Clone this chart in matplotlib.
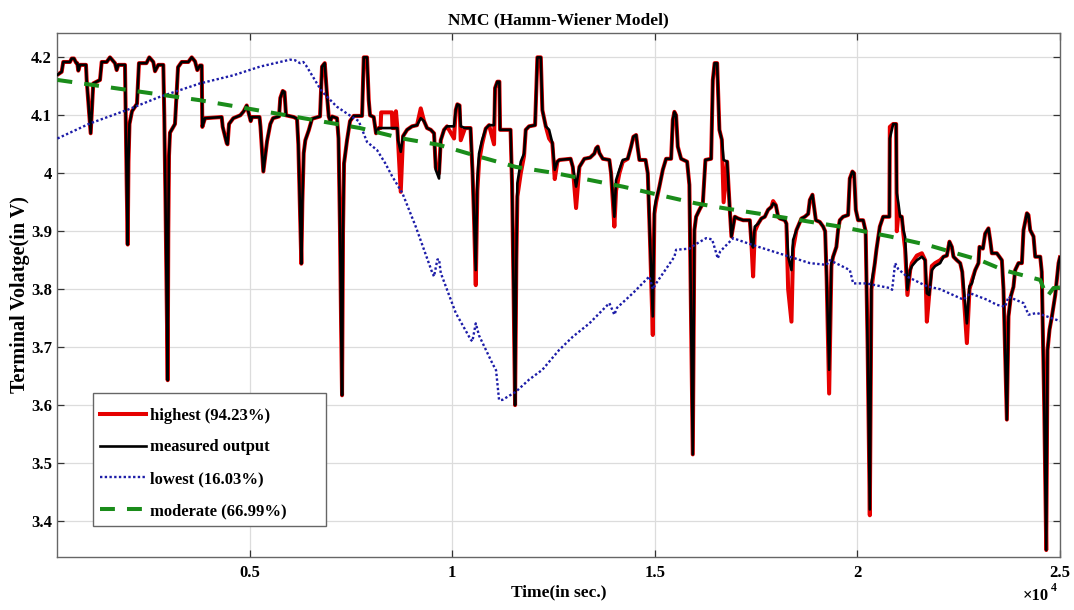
import matplotlib
matplotlib.use("Agg")
import matplotlib.pyplot as plt
from matplotlib.patches import Rectangle
from matplotlib.ticker import FixedLocator

plt.rcParams['font.family'] = ['Liberation Serif', 'DejaVu Serif']
plt.rcParams['font.weight'] = 'bold'

# ---- measured terminal voltage and best (highest-fit) model, same time grid ----
time_s = [
    254, 358, 397, 563, 605, 662, 711, 743, 768, 810,
    958, 975, 1074, 1138, 1304, 1346, 1469, 1550, 1674, 1716,
    1756, 1921, 1938, 1963, 1988, 2007, 2032, 2094, 2217, 2266,
    2450, 2521, 2620, 2662, 2743, 2867, 2891, 2921, 2950, 2975,
    2990, 3007, 3032, 3155, 3230, 3321, 3484, 3568, 3650, 3706,
    3773, 3815, 3830, 3896, 4308, 4333, 4432, 4452, 4489, 4595,
    4768, 4852, 4926, 4990, 5025, 5057, 5242, 5266, 5336, 5365,
    5427, 5508, 5575, 5723, 5755, 5815, 5859, 5896, 6086, 6167,
    6200, 6242, 6274, 6299, 6333, 6373, 6457, 6538, 6735, 6785,
    6852, 6908, 6950, 6990, 7032, 7155, 7192, 7229, 7254, 7279,
    7303, 7328, 7402, 7476, 7568, 7773, 7815, 7896, 7938, 7970,
    8061, 8118, 8185, 8230, 8245, 8510, 8525, 8595, 8610, 8644,
    8661, 8728, 8785, 8884, 9007, 9130, 9222, 9303, 9377, 9469,
    9550, 9592, 9673, 9716, 9797, 9871, 10044, 10086, 10125, 10180,
    10209, 10315, 10451, 10501, 10538, 10580, 10619, 10661, 10735, 10826,
    10908, 11031, 11056, 11113, 11163, 11180, 11439, 11476, 11513, 11550,
    11582, 11607, 11691, 11772, 11814, 11896, 12044, 12076, 12101, 12185,
    12224, 12308, 12390, 12471, 12530, 12594, 12644, 12921, 12975, 13056,
    13138, 13261, 13402, 13508, 13550, 13592, 13631, 13715, 13878, 13920,
    14001, 14043, 14125, 14209, 14332, 14414, 14471, 14538, 14575, 14619,
    14772, 14826, 14883, 14950, 14989, 15031, 15113, 15197, 15278, 15402,
    15444, 15483, 15525, 15567, 15649, 15797, 15853, 15895, 15937, 15977,
    16019, 16101, 16185, 16249, 16390, 16432, 16476, 16538, 16594, 16654,
    16698, 16785, 16851, 16891, 16975, 17056, 17180, 17345, 17385, 17426,
    17468, 17550, 17631, 17715, 17796, 17878, 17920, 17987, 18044, 18086,
    18209, 18249, 18291, 18373, 18414, 18496, 18619, 18703, 18785, 18827,
    18891, 18926, 18975, 19073, 19155, 19204, 19241, 19303, 19359, 19400,
    19482, 19524, 19566, 19647, 19771, 19813, 19877, 19919, 19961, 20018,
    20142, 20204, 20253, 20307, 20347, 20431, 20470, 20554, 20636, 20759,
    20790, 20801, 20883, 20957, 20973, 21013, 21054, 21096, 21136, 21178,
    21235, 21304, 21345, 21468, 21592, 21673, 21715, 21772, 21838, 21920,
    22043, 22125, 22209, 22273, 22332, 22372, 22456, 22538, 22588, 22703,
    22768, 22826, 22908, 22989, 23014, 23098, 23155, 23236, 23278, 23320,
    23443, 23567, 23607, 23690, 23730, 23789, 23853, 23895, 23977, 24061,
    24101, 24185, 24224, 24266, 24348, 24390, 24514, 24551, 24612, 24662,
    24694, 24743, 24802, 24884, 24966, 25000,
]

measured_v = [
    4.170, 4.175, 4.192, 4.192, 4.198, 4.198, 4.191, 4.190, 4.177, 4.187,
    4.187, 4.161, 4.069, 4.155, 4.161, 4.192, 4.192, 4.200, 4.190, 4.178,
    4.187, 4.187, 4.100, 3.980, 3.877, 4.020, 4.085, 4.107, 4.120, 4.190,
    4.190, 4.200, 4.192, 4.176, 4.187, 4.187, 4.100, 3.950, 3.780, 3.643,
    3.900, 4.030, 4.070, 4.085, 4.183, 4.192, 4.192, 4.200, 4.193, 4.178,
    4.186, 4.186, 4.080, 4.095, 4.097, 4.080, 4.052, 4.050, 4.085, 4.095,
    4.100, 4.107, 4.117, 4.100, 4.090, 4.097, 4.097, 4.080, 4.003, 4.020,
    4.055, 4.085, 4.095, 4.098, 4.130, 4.142, 4.140, 4.100, 4.097, 4.094,
    4.050, 3.930, 3.844, 3.950, 4.035, 4.057, 4.074, 4.094, 4.098, 4.184,
    4.190, 4.134, 4.098, 4.090, 4.098, 4.095, 4.060, 3.900, 3.750, 3.617,
    3.900, 4.017, 4.057, 4.090, 4.099, 4.099, 4.200, 4.200, 4.126, 4.100,
    4.097, 4.069, 4.078, 4.078, 4.078, 4.078, 4.078, 4.078, 4.078, 4.078,
    4.057, 4.037, 4.064, 4.075, 4.081, 4.083, 4.095, 4.090, 4.078, 4.075,
    4.069, 4.006, 3.991, 4.057, 4.075, 4.081, 4.081, 4.109, 4.119, 4.117,
    4.081, 4.078, 4.078, 4.000, 3.920, 3.833, 3.988, 4.034, 4.057, 4.077,
    4.083, 4.083, 4.147, 4.158, 4.158, 4.075, 4.075, 3.980, 3.800, 3.600,
    3.850, 3.983, 4.020, 4.034, 4.075, 4.081, 4.083, 4.150, 4.200, 4.200,
    4.109, 4.081, 4.075, 4.052, 4.006, 4.020, 4.023, 4.025, 4.011, 3.977,
    4.011, 4.025, 4.027, 4.034, 4.043, 4.046, 4.035, 4.025, 4.023, 4.000,
    3.925, 3.988, 4.006, 4.023, 4.025, 4.046, 4.063, 4.066, 4.045, 4.023,
    4.023, 4.000, 3.880, 3.753, 3.937, 3.954, 3.977, 4.006, 4.025, 4.025,
    4.092, 4.106, 4.100, 4.046, 4.025, 4.020, 3.980, 3.750, 3.515, 3.902,
    3.925, 3.937, 3.948, 4.023, 4.025, 4.161, 4.190, 4.190, 4.075, 4.058,
    4.023, 4.020, 3.937, 3.891, 3.925, 3.922, 3.919, 3.919, 3.879, 3.872,
    3.908, 3.913, 3.922, 3.925, 3.937, 3.942, 3.948, 3.945, 3.925, 3.922,
    3.919, 3.913, 3.856, 3.833, 3.885, 3.902, 3.922, 3.925, 3.930, 3.954,
    3.963, 3.945, 3.919, 3.916, 3.908, 3.900, 3.820, 3.661, 3.845, 3.856,
    3.873, 3.902, 3.919, 3.925, 3.928, 3.991, 4.003, 4.000, 3.937, 3.919,
    3.919, 3.900, 3.700, 3.420, 3.810, 3.845, 3.868, 3.908, 3.925, 3.925,
    3.925, 4.060, 4.085, 4.085, 3.966, 3.948, 3.925, 3.925, 3.902, 3.890,
    3.799, 3.833, 3.840, 3.850, 3.856, 3.850, 3.793, 3.790, 3.833, 3.840,
    3.845, 3.856, 3.858, 3.882, 3.873, 3.856, 3.850, 3.845, 3.830, 3.741,
    3.805, 3.810, 3.833, 3.845, 3.873, 3.870, 3.896, 3.905, 3.885, 3.862,
    3.862, 3.850, 3.800, 3.575, 3.753, 3.788, 3.804, 3.833, 3.845, 3.845,
    3.902, 3.931, 3.928, 3.902, 3.891, 3.856, 3.856, 3.830, 3.600, 3.350,
    3.695, 3.730, 3.753, 3.790, 3.845, 3.855,
]

highest_v = [
    4.170, 4.175, 4.192, 4.192, 4.198, 4.198, 4.191, 4.190, 4.177, 4.187,
    4.187, 4.161, 4.069, 4.155, 4.161, 4.192, 4.192, 4.200, 4.190, 4.178,
    4.187, 4.187, 4.100, 3.980, 3.877, 4.020, 4.085, 4.107, 4.120, 4.190,
    4.190, 4.200, 4.192, 4.176, 4.187, 4.187, 4.100, 3.950, 3.780, 3.643,
    3.900, 4.030, 4.070, 4.085, 4.183, 4.192, 4.192, 4.200, 4.193, 4.178,
    4.186, 4.186, 4.080, 4.095, 4.097, 4.080, 4.052, 4.050, 4.085, 4.095,
    4.100, 4.107, 4.117, 4.100, 4.090, 4.097, 4.097, 4.080, 4.003, 4.020,
    4.055, 4.085, 4.095, 4.098, 4.130, 4.142, 4.140, 4.100, 4.097, 4.094,
    4.050, 3.930, 3.844, 3.950, 4.035, 4.057, 4.074, 4.094, 4.098, 4.184,
    4.190, 4.134, 4.098, 4.090, 4.098, 4.095, 4.060, 3.900, 3.750, 3.617,
    3.900, 4.017, 4.057, 4.090, 4.099, 4.099, 4.200, 4.200, 4.126, 4.100,
    4.097, 4.069, 4.078, 4.078, 4.105, 4.105, 4.078, 4.078, 4.107, 4.078,
    4.057, 3.968, 4.064, 4.075, 4.081, 4.083, 4.112, 4.090, 4.078, 4.075,
    4.069, 4.010, 4.000, 4.057, 4.075, 4.081, 4.060, 4.109, 4.119, 4.117,
    4.057, 4.078, 4.078, 4.000, 3.920, 3.807, 3.970, 4.020, 4.050, 4.077,
    4.083, 4.050, 4.147, 4.158, 4.158, 4.075, 4.075, 3.980, 3.800, 3.600,
    3.850, 3.960, 4.000, 4.030, 4.075, 4.081, 4.083, 4.150, 4.200, 4.200,
    4.109, 4.081, 4.060, 4.052, 3.990, 4.020, 4.023, 4.025, 4.011, 3.940,
    4.011, 4.025, 4.027, 4.034, 4.043, 4.046, 4.035, 4.025, 4.023, 4.000,
    3.908, 3.970, 4.000, 4.020, 4.025, 4.046, 4.063, 4.066, 4.045, 4.023,
    4.023, 4.000, 3.880, 3.721, 3.930, 3.950, 3.977, 4.006, 4.025, 4.025,
    4.092, 4.106, 4.100, 4.046, 4.025, 4.020, 3.980, 3.750, 3.515, 3.902,
    3.925, 3.937, 3.948, 4.023, 4.025, 4.161, 4.190, 4.190, 4.075, 4.058,
    3.950, 4.020, 3.937, 3.891, 3.925, 3.922, 3.919, 3.919, 3.879, 3.822,
    3.900, 3.913, 3.922, 3.925, 3.937, 3.942, 3.952, 3.945, 3.925, 3.922,
    3.919, 3.913, 3.800, 3.744, 3.870, 3.902, 3.922, 3.925, 3.930, 3.954,
    3.963, 3.945, 3.919, 3.916, 3.908, 3.900, 3.820, 3.620, 3.840, 3.856,
    3.873, 3.902, 3.919, 3.925, 3.928, 3.991, 4.003, 4.000, 3.937, 3.919,
    3.919, 3.900, 3.700, 3.410, 3.800, 3.845, 3.868, 3.908, 3.925, 3.925,
    3.925, 4.080, 4.085, 4.085, 3.900, 3.930, 3.925, 3.925, 3.895, 3.870,
    3.790, 3.833, 3.845, 3.858, 3.862, 3.850, 3.744, 3.790, 3.840, 3.845,
    3.850, 3.856, 3.858, 3.882, 3.873, 3.856, 3.850, 3.845, 3.830, 3.707,
    3.800, 3.815, 3.833, 3.845, 3.873, 3.870, 3.896, 3.905, 3.885, 3.862,
    3.862, 3.850, 3.800, 3.575, 3.753, 3.788, 3.804, 3.833, 3.845, 3.845,
    3.902, 3.931, 3.928, 3.902, 3.891, 3.856, 3.856, 3.830, 3.600, 3.350,
    3.695, 3.730, 3.753, 3.790, 3.845, 3.855,
]

# ---- lowest-fit model ----
lowest_t = [
    254, 1057, 1963, 2785, 3773, 4595, 5254, 5995, 6118, 6242,
    6323, 6390, 6703, 6785, 7148, 7444, 7691, 7896, 8143, 8348,
    8514, 8767, 9098, 9508, 9550, 9632, 9673, 9716, 10086, 10456,
    10496, 10580, 10661, 10990, 11081, 11155, 11237, 11567, 11896, 12224,
    12636, 12975, 13384, 13878, 14001, 14068, 14456, 14866, 14950, 15031,
    15483, 15525, 15853, 16019, 16266, 16414, 16555, 16612, 16933, 17426,
    18332, 18827, 19237, 19320, 19814, 19896, 20224, 20801, 20858, 20932,
    21006, 21221, 21715, 22043, 22618, 22784, 23196, 23443, 23648, 23730,
    24101, 24224, 24431, 24679, 25000,
]
lowest_v = [
    4.060, 4.086, 4.109, 4.132, 4.155, 4.169, 4.184, 4.196, 4.195, 4.190,
    4.192, 4.186, 4.150, 4.141, 4.115, 4.101, 4.090, 4.054, 4.040, 4.017,
    3.995, 3.966, 3.908, 3.828, 3.822, 3.851, 3.852, 3.828, 3.759, 3.713,
    3.710, 3.741, 3.720, 3.672, 3.660, 3.609, 3.609, 3.623, 3.644, 3.661,
    3.695, 3.718, 3.741, 3.776, 3.756, 3.768, 3.793, 3.822, 3.800, 3.810,
    3.856, 3.868, 3.870, 3.878, 3.888, 3.886, 3.853, 3.865, 3.888, 3.876,
    3.856, 3.845, 3.842, 3.850, 3.833, 3.810, 3.810, 3.802, 3.799, 3.845,
    3.835, 3.822, 3.805, 3.800, 3.782, 3.793, 3.782, 3.773, 3.770, 3.787,
    3.776, 3.756, 3.759, 3.753, 3.745,
]

# ---- moderate-fit model ----
moderate_t = [
    254, 3773, 7723, 8767, 9673, 10496, 11567, 12562, 14209, 16019,
    16686, 18332, 19567, 20801, 21747, 23031, 23607, 24513, 24679, 24842,
    25000,
]
moderate_v = [
    4.161, 4.126, 4.078, 4.060, 4.049, 4.032, 4.011, 4.000, 3.977, 3.948,
    3.940, 3.922, 3.908, 3.891, 3.876, 3.850, 3.833, 3.816, 3.787, 3.802,
    3.803,
]

x_tick_pos = [5000, 10000, 15000, 20000, 25000]
x_tick_labels = ['0.5', '1', '1.5', '2', '2.5']
y_tick_pos = [3.4, 3.5, 3.6, 3.7, 3.8, 3.9, 4.0, 4.1, 4.2]
y_tick_labels = ['3.4', '3.5', '3.6', '3.7', '3.8', '3.9', '4', '4.1', '4.2']

FS = 12

fig = plt.figure(figsize=(10.74, 6.10), dpi=100)
ax = fig.add_axes([0.0535, 0.0869, 0.9334, 0.859])

ax.plot(time_s, highest_v, color='#e60000', lw=2.9, label='highest (94.23%)', zorder=2)
ax.plot(time_s, measured_v, color='black', lw=1.9, label='measured output', zorder=3)
ax.plot(lowest_t, lowest_v, color='#1c1ca8', lw=1.7, ls=(0, (1, 1)),
        label='lowest (16.03%)', zorder=4)
ax.plot(moderate_t, moderate_v, color='#1a8c1a', lw=2.9, ls=(0, (3.7, 3.0)),
        label='moderate (66.99%)', zorder=5)

ax.set_xlim(254, 25000)
ax.set_ylim(3.338, 4.242)
ax.xaxis.set_major_locator(FixedLocator(x_tick_pos))
ax.set_xticklabels(x_tick_labels)
ax.yaxis.set_major_locator(FixedLocator(y_tick_pos))
ax.set_yticklabels(y_tick_labels)

ax.grid(True, color='#dcdcdc', lw=0.9)
ax.set_axisbelow(True)
ax.tick_params(direction='in', length=5, width=0.9, top=True, right=True,
               labelsize=FS, colors='#333333', labelcolor='black')
ax.tick_params(axis='x', pad=6)
ax.tick_params(axis='y', pad=4)
for sp in ax.spines.values():
    sp.set_color('#666666')
    sp.set_linewidth(1.0)

ax.set_title('NMC (Hamm-Wiener Model)', fontsize=12.5, fontweight='bold', pad=6)
ax.set_xlabel('Time(in sec.)', fontsize=12.5, fontweight='bold', labelpad=2)
ax.set_ylabel('Terminal Volatge(in V)', fontsize=14.5, fontweight='bold', labelpad=0.5)

fig.text(1036 / 1074, 1 - 596 / 610, '\u00d710', fontsize=FS, fontweight='bold',
         ha='center', va='center')
fig.text(1054 / 1074, 1 - 588 / 610, '4', fontsize=8.5, fontweight='bold',
         ha='center', va='center')

# legend frame drawn as a plain box, wider than the entries
ax.add_patch(Rectangle((0.0357, 0.0592), 0.2321, 0.2544, transform=ax.transAxes,
                       facecolor='white', edgecolor='#666666', lw=1.0, zorder=9))
leg = ax.legend(loc='upper left', bbox_to_anchor=(0.0424, 0.2850), fontsize=FS,
                frameon=False, handlelength=2.75, handletextpad=0.25,
                labelspacing=0.95, borderpad=0, borderaxespad=0)
leg.set_zorder(10)

fig.savefig('out.png', dpi=100, facecolor='white')
